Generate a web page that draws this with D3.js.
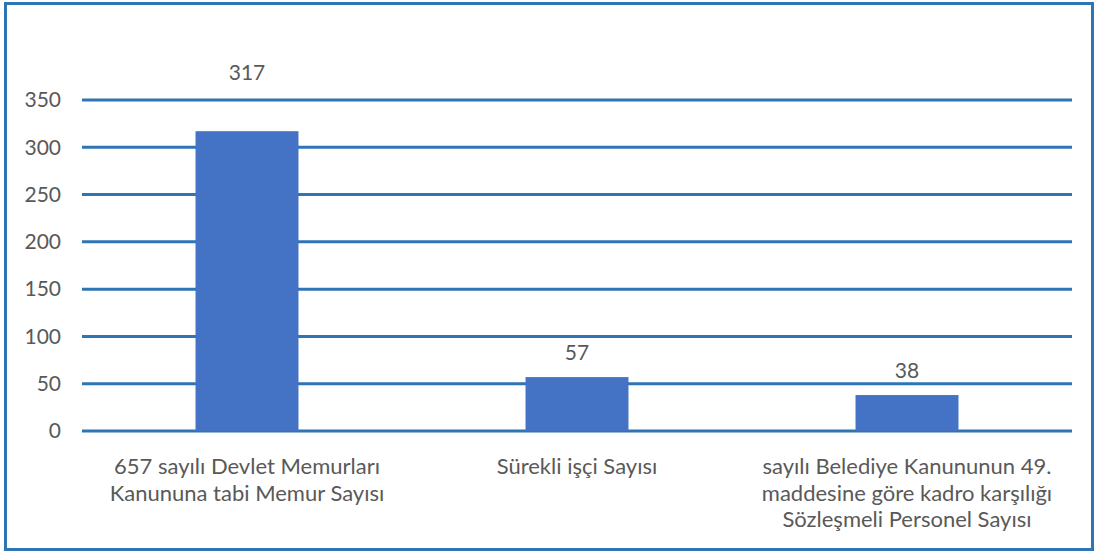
<!DOCTYPE html>
<html>
<head>
<meta charset="utf-8">
<script src="https://cdn.jsdelivr.net/npm/d3@7"></script>
<style>
  html, body { margin: 0; padding: 0; background: #fff; }
  svg text { font-family: Lato, "Open Sans", sans-serif; fill: #595959; }
</style>
</head>
<body>
<svg id="chart" width="1097" height="553"></svg>
<script>
// Personnel counts by employment type
const categories = [
  ["657 sayılı Devlet Memurları", "Kanununa tabi Memur Sayısı"],
  ["Sürekli işçi Sayısı"],
  ["sayılı Belediye Kanununun 49.", "maddesine göre kadro karşılığı", "Sözleşmeli Personel Sayısı"]
];
const values = [317, 57, 38];
const yTicks = [0, 50, 100, 150, 200, 250, 300, 350];

const W = 1097, H = 553;
const margin = { left: 82, right: 25, top: 100, bottom: 122 };
const blue = "#2E75B6";
const barColor = "#4472C4";

const svg = d3.select("#chart");

// outer frame
svg.append("rect")
  .attr("x", 5.5).attr("y", 3.5)
  .attr("width", W - 10).attr("height", H - 7)
  .attr("fill", "none").attr("stroke", blue).attr("stroke-width", 3);

const x = d3.scaleBand()
  .domain(d3.range(values.length))
  .range([margin.left, W - margin.right])
  .paddingInner(0.688).paddingOuter(0.344);

const y = d3.scaleLinear()
  .domain([0, 350])
  .range([H - margin.bottom, margin.top]);

// horizontal gridlines
svg.append("g")
  .selectAll("line")
  .data(yTicks)
  .join("line")
  .attr("x1", margin.left).attr("x2", W - margin.right)
  .attr("y1", d => y(d)).attr("y2", d => y(d))
  .attr("stroke", blue).attr("stroke-width", 3);

// y axis tick labels
const yAxis = d3.axisLeft(y).tickValues(yTicks).tickSize(0).tickPadding(21);
const yg = svg.append("g").attr("transform", `translate(${margin.left},0)`).call(yAxis);
yg.select(".domain").remove();
yg.selectAll("text")
  .attr("font-size", 21)
  .attr("font-family", "Lato, sans-serif")
  .attr("fill", "#595959");

// bars
svg.append("g")
  .selectAll("rect")
  .data(values)
  .join("rect")
  .attr("x", (d, i) => x(i))
  .attr("y", d => y(d))
  .attr("width", x.bandwidth())
  .attr("height", d => y(0) - y(d))
  .attr("fill", barColor);

// value labels
svg.append("g")
  .selectAll("text")
  .data(values)
  .join("text")
  .attr("x", (d, i) => x(i) + x.bandwidth() / 2)
  .attr("y", (d, i) => y(d) - (i === 0 ? 51 : 17))
  .attr("text-anchor", "middle")
  .attr("font-size", 21)
  .text(d => d);

// category labels
const cat = svg.append("g")
  .selectAll("text")
  .data(categories)
  .join("text")
  .attr("x", (d, i) => x(i) + x.bandwidth() / 2)
  .attr("y", 474)
  .attr("text-anchor", "middle")
  .attr("font-size", 22);
cat.selectAll("tspan")
  .data(d => d)
  .join("tspan")
  .attr("x", function () { return this.parentNode.getAttribute("x"); })
  .attr("dy", (d, j) => j === 0 ? 0 : 26.5)
  .text(d => d);
</script>
</body>
</html>
